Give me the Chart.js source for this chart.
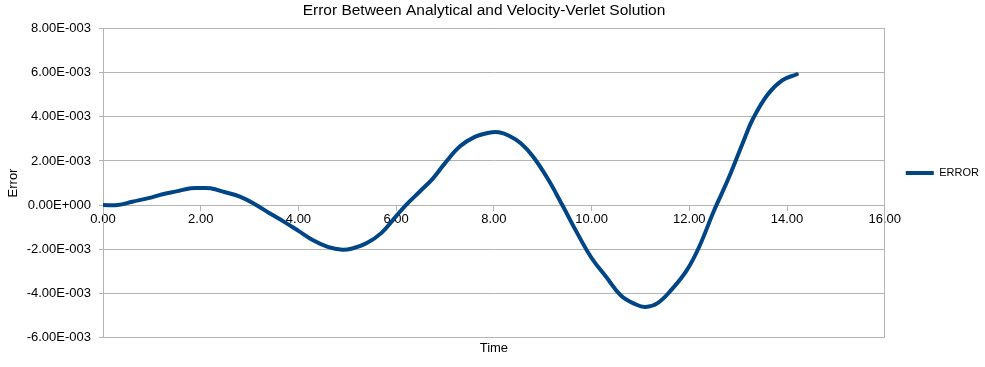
<!DOCTYPE html>
<html>
<head>
<meta charset="utf-8">
<script src="https://cdn.jsdelivr.net/npm/chart.js@4.4.0/dist/chart.umd.min.js"></script>
<style>
  html, body { margin: 0; padding: 0; background: #fff; }
</style>
</head>
<body>
<canvas id="errChart" width="985" height="367"></canvas>
<script>
// --- data ---
const timeVals = [0, 0.3, 0.6, 1.0, 1.2, 1.5, 1.8, 2.0, 2.2, 2.5, 2.8, 3.1, 3.4, 3.7, 4.0, 4.3, 4.6, 4.9, 5.1,
  5.4, 5.7, 6.0, 6.2, 6.5, 6.75, 7.0, 7.3, 7.6, 7.9, 8.1, 8.3, 8.55, 8.8, 9.1, 9.4, 9.7, 10.0, 10.3,
  10.6, 10.9, 11.1, 11.35, 11.65, 11.95, 12.2, 12.5, 12.8, 13.1, 13.3, 13.6, 13.9, 14.2];
const errorVals = [0, 0, 0.15e-3, 0.35e-3, 0.48e-3, 0.62e-3, 0.76e-3, 0.77e-3, 0.76e-3, 0.58e-3, 0.38e-3,
  0.05e-3, -0.36e-3, -0.75e-3, -1.17e-3, -1.6e-3, -1.9e-3, -2.03e-3, -1.97e-3, -1.72e-3, -1.26e-3,
  -0.5e-3, 0, 0.65e-3, 1.2e-3, 1.9e-3, 2.65e-3, 3.08e-3, 3.28e-3, 3.3e-3, 3.15e-3, 2.8e-3, 2.2e-3,
  1.2e-3, 0, -1.25e-3, -2.4e-3, -3.26e-3, -4.1e-3, -4.5e-3, -4.62e-3, -4.45e-3, -3.8e-3, -2.95e-3,
  -1.9e-3, -0.28e-3, 1.2e-3, 2.85e-3, 3.9e-3, 5.0e-3, 5.65e-3, 5.93e-3];
const xTickVals = [0, 2, 4, 6, 8, 10, 12, 14, 16];
const yTickVals = [-0.006, -0.004, -0.002, 0, 0.002, 0.004, 0.006, 0.008];

const lineColor = "#004586";
const gridColor = "#b3b3b3";

Chart.defaults.font.family = "'Liberation Sans', Arial, sans-serif";
Chart.defaults.font.size = 13;
Chart.defaults.color = "#000";

// 8.00E-003 style labels
function sciLabel(v) {
  if (Math.abs(v) < 1e-12) v = 0;
  const parts = v.toExponential(2).split("e");
  const n = parseInt(parts[1], 10);
  return parts[0] + "E" + (n < 0 ? "-" : "+") + String(Math.abs(n)).padStart(3, "0");
}

const points = timeVals.map((t, i) => ({ x: t, y: errorVals[i] }));

const ctx = document.getElementById("errChart").getContext("2d");
const errChart = new Chart(ctx, {
  type: "scatter",
  data: {
    datasets: [
      {
        label: "ERROR",
        data: points,
        showLine: true,
        borderColor: lineColor,
        backgroundColor: lineColor,
        borderWidth: 4,
        borderCapStyle: "round",
        pointRadius: 0,
        tension: 0.4,
      },
    ],
  },
  options: {
    responsive: false,
    animation: false,
    layout: { padding: { left: -21, right: -4, top: 0, bottom: 21 } },
    scales: {
      x: {
        type: "linear",
        position: { y: 0 },
        min: 0,
        max: 16,
        afterBuildTicks: (scale) => { scale.ticks = xTickVals.map((v) => ({ value: v })); },
        ticks: { padding: 2, maxRotation: 0, callback: (v) => Number(v).toFixed(2) },
        grid: { drawOnChartArea: false, tickLength: 5, color: gridColor },
        border: { color: gridColor },
      },
      xTitle: {
        type: "linear",
        position: "bottom",
        ticks: { display: false },
        grid: { display: false, drawTicks: false },
        border: { display: false },
        title: { display: true, text: "Time", padding: { top: 3, bottom: -10 } },
      },
      y: {
        type: "linear",
        position: "left",
        min: -0.006,
        max: 0.008,
        afterBuildTicks: (scale) => { scale.ticks = yTickVals.map((v) => ({ value: v })); },
        afterFit: (scale) => { scale.width = 124; },
        ticks: { padding: 8, callback: (v) => sciLabel(v) },
        grid: { color: gridColor, tickLength: 4 },
        border: { color: gridColor },
        title: { display: true, text: "Error", padding: { top: 27, bottom: 0 } },
      },
      yRight: {
        type: "linear",
        position: "right",
        ticks: { display: false },
        grid: { display: false, drawTicks: false },
        border: { display: true, color: gridColor },
      },
    },
    plugins: {
      title: {
        display: true,
        text: "Error Between Analytical and Velocity-Verlet Solution",
        font: { size: 15.5, weight: "normal" },
        color: "#000",
        padding: { top: 1, bottom: 9 },
      },
      legend: {
        position: "right",
        labels: {
          boxWidth: 28,
          boxHeight: 4,
          padding: 21,
          font: { size: 11 },
          generateLabels: (chart) =>
            Chart.defaults.plugins.legend.labels.generateLabels(chart).map((l) => ({ ...l, lineWidth: 0, fillStyle: lineColor })),
        },
      },
      tooltip: { enabled: false },
    },
  },
});
</script>
</body>
</html>
